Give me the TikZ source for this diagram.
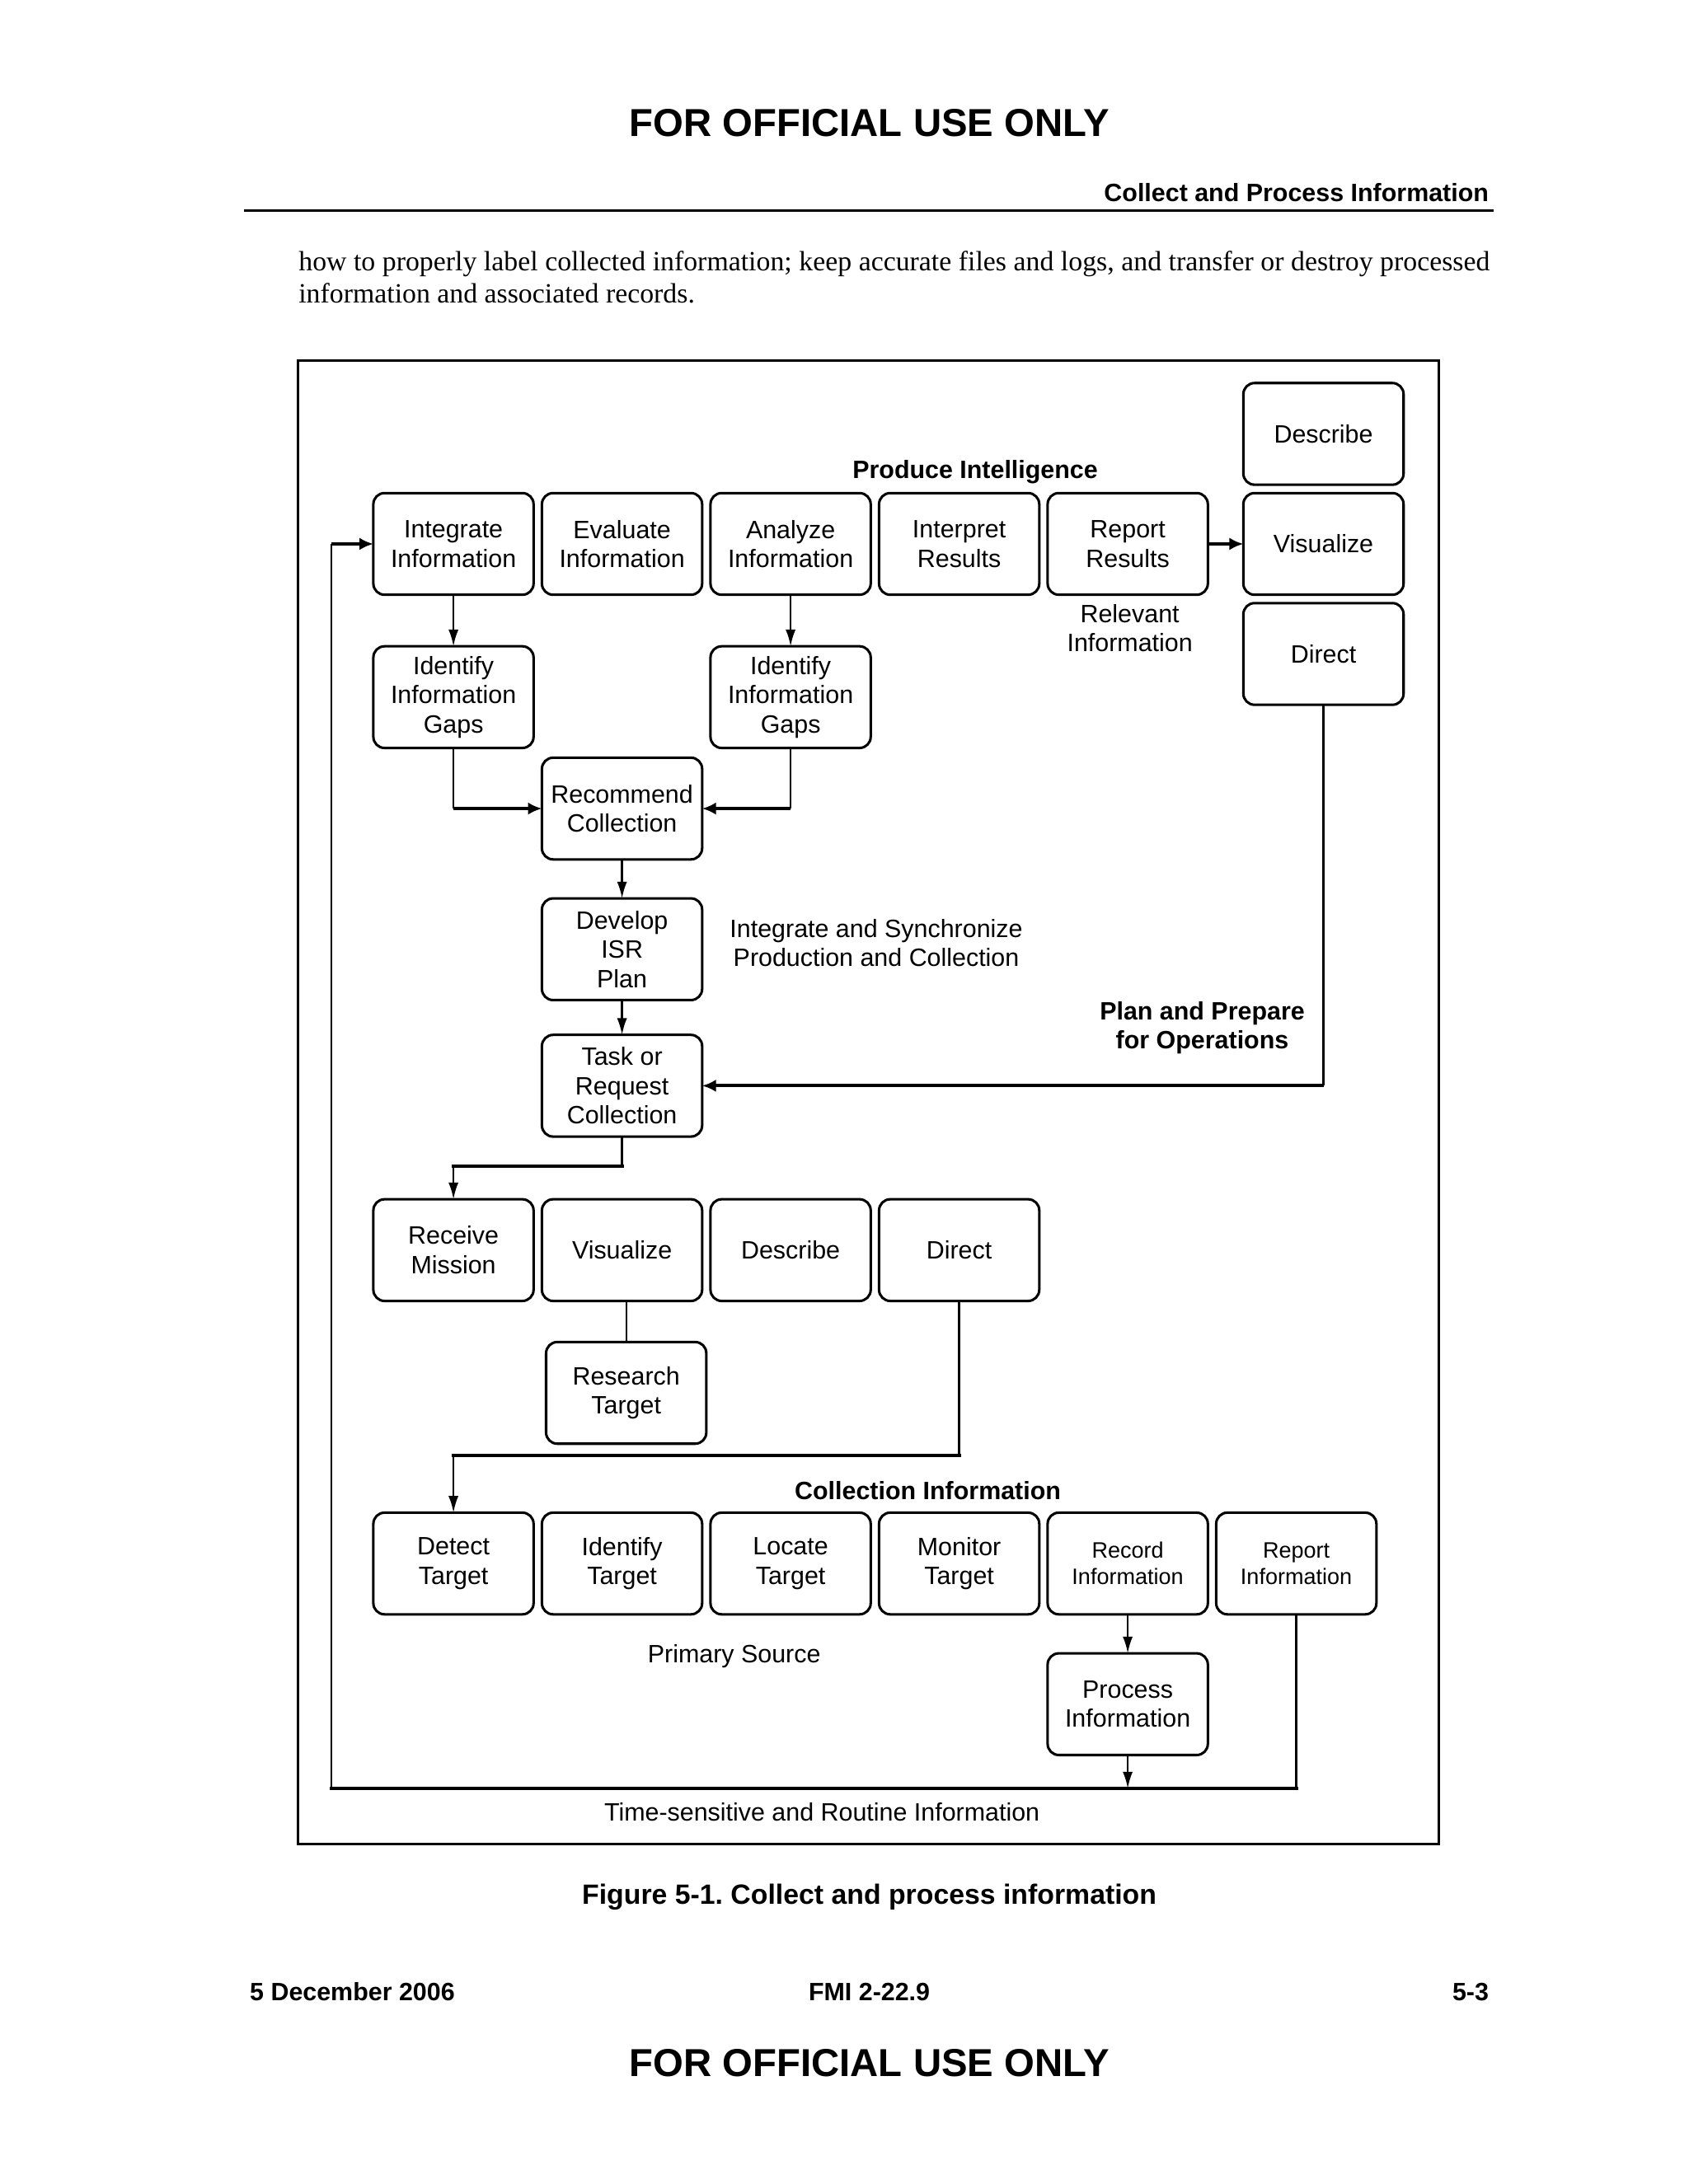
\documentclass[tikz,border=0pt]{standalone}
\usepackage{fontspec}
\setmainfont{Liberation Serif}
\setsansfont{Liberation Sans}
\usetikzlibrary{positioning,arrows.meta}

\begin{document}
\begin{tikzpicture}[x=0.5pt,y=-0.5pt,
box/.style={rectangle, rounded corners=4pt, draw=black, line width=0.9pt, minimum width=57.5pt, minimum height=36.5pt, inner sep=1pt, outer sep=0pt, align=center, font=\sffamily\fontsize{9}{10.5}\selectfont},
smallbox/.style={box, font=\sffamily\fontsize{8}{9.5}\selectfont},
lbl/.style={align=center, font=\sffamily\fontsize{9}{10.5}\selectfont},
head/.style={align=center, font=\sffamily\bfseries\fontsize{9}{10.5}\selectfont},
thinline/.style={line width=0.7pt},
thickline/.style={line width=1.2pt, line cap=rect},
link/.style={line width=0.7pt, -{Latex[length=6pt,width=3.6pt]}},
flow/.style={line width=1.2pt, -{Latex[length=5pt,width=4.5pt]}},
]
\useasboundingbox (0,0) rectangle (1212,1568);

% page
\node[font=\sffamily\bfseries\fontsize{14}{16}\selectfont] (fouotop) at (624,88) {FOR OFFICIAL USE ONLY};
\node[anchor=east, inner sep=0pt, font=\sffamily\bfseries\fontsize{9}{11}\selectfont] (runhead) at (1069,138) {Collect and Process Information};
\draw[line width=0.9pt] (175,151) -- (1072,151);
\node[anchor=north west, inner sep=0pt, align=left, font=\rmfamily\fontsize{10}{11.5}\selectfont] (bodytext) at (214,180)
  {\makebox[427.5pt][s]{how to properly label collected information; keep accurate files and logs, and transfer or destroy processed}\\
   information and associated records.};
\coordinate (frameNW) at (214,259);
\coordinate (frameSE) at (1033,1324);
\draw[line width=0.8pt] (frameNW) rectangle (frameSE);

% produce intelligence
\node[head] (prodlbl) at (700,339) {Produce Intelligence};
\node[box] (integ) at (325.5,390.5) {Integrate\\Information};
\node[box, right=3pt of integ] (evaluate) {Evaluate\\Information};
\node[box, right=3pt of evaluate] (analyze) {Analyze\\Information};
\node[box, right=3pt of analyze] (interpret) {Interpret\\Results};
\node[box, right=3pt of interpret] (report) {Report\\Results};
\node[box] (visualizeA) at (950,390.5) {Visualize};
\node[box, above=3pt of visualizeA] (describeA) {Describe};
\node[box, below=3pt of visualizeA] (directA) {Direct};
\node[lbl] (relevant) at (811,451) {Relevant\\Information};
\node[box, below=18.5pt of integ] (gapsA) {Identify\\Information\\Gaps};
\node[box, below=18.5pt of analyze] (gapsB) {Identify\\Information\\Gaps};
\node[box] (recommend) at (446.5,580.5) {Recommend\\Collection};
\node[box, below=14pt of recommend] (develop) {Develop\\ISR\\Plan};
\node[box, below=12.5pt of develop] (task) {Task or\\Request\\Collection};
\node[lbl] (synclbl) at (629,677) {Integrate and Synchronize\\Production and Collection};
\node[head] (planlbl) at (863,738) {Plan and Prepare\\for Operations};

% plan and prepare
\node[box] (receive) at (325.5,897.5) {Receive\\Mission};
\node[box, right=3pt of receive] (visualizeB) {Visualize};
\node[box, right=3pt of visualizeB] (describeB) {Describe};
\node[box, right=3pt of describeB] (directB) {Direct};
\node[box] (research) at (449.5,1000) {Research\\Target};

% collection
\node[head] (colllbl) at (666,1070) {Collection Information};
\node[box] (detect) at (325.5,1122.5) {Detect\\Target};
\node[box, right=3pt of detect] (identify) {Identify\\Target};
\node[box, right=3pt of identify] (locate) {Locate\\Target};
\node[box, right=3pt of locate] (monitor) {Monitor\\Target};
\node[smallbox, right=3pt of monitor] (record) {Record\\Information};
\node[smallbox, right=3pt of record] (reportinfo) {Report\\Information};
\node[box, below=14pt of record] (process) {Process\\Information};
\node[lbl] (primary) at (527,1189) {Primary Source};
\node[lbl] (timelbl) at (590,1301) {Time-sensitive and Routine Information};

% connectors
\draw[link] (integ) -- (gapsA);
\draw[link] (analyze) -- (gapsB);
\coordinate (jA) at (gapsA.south |- recommend.west);
\coordinate (jB) at (gapsB.south |- recommend.east);
\draw[thinline] (gapsA.south) -- (jA);
\draw[flow] (jA) -- (recommend.west);
\draw[thinline] (gapsB.south) -- (jB);
\draw[flow] (jB) -- (recommend.east);
\draw[flow] (report.east) -- (visualizeA.west);
\draw[link] (recommend) -- (develop);
\draw[link] (develop) -- (task);
\coordinate (jC) at (directA.south |- task.east);
\draw[thinline] (directA.south) -- (jC);
\draw[flow] (jC) -- (task.east);

\coordinate (rowD) at (0,837);
\coordinate (jD1) at (task.south |- rowD);
\coordinate (jD2) at (receive.north |- rowD);
\draw[thinline] (task.south) -- (jD1);
\draw[thickline] (jD1) -- (jD2);
\draw[link] (jD2) -- (receive.north);
\draw[thinline] (research.north) -- (research.north |- visualizeB.south);

\coordinate (rowE) at (0,1045);
\coordinate (jE1) at (directB.south |- rowE);
\coordinate (jE2) at (detect.north |- rowE);
\draw[thinline] (directB.south) -- (jE1);
\draw[thickline] (jE1) -- (jE2);
\draw[link] (jE2) -- (detect.north);

\draw[link] (record) -- (process);
\coordinate (rowF) at (0,1284);
\coordinate (colF) at (238,0);
\coordinate (jF1) at (reportinfo.south |- rowF);
\coordinate (jF2) at (colF |- rowF);
\coordinate (jF3) at (colF |- integ.west);
\draw[thinline] (reportinfo.south) -- (jF1);
\draw[thickline] (jF1) -- (jF2);
\draw[thinline] (jF2) -- (jF3);
\draw[flow] (jF3) -- (integ.west);
\draw[link] (process.south) -- (process.south |- rowF);

% footer
\node[font=\sffamily\bfseries\fontsize{10}{12}\selectfont] (caption) at (624,1362) {Figure 5-1.\ Collect and process information};
\node[anchor=west, inner sep=0pt, font=\sffamily\bfseries\fontsize{9}{11}\selectfont] (date) at (179,1430) {5 December 2006};
\node[inner sep=0pt, font=\sffamily\bfseries\fontsize{9}{11}\selectfont] (docnum) at (624,1430) {FMI 2-22.9};
\node[anchor=east, inner sep=0pt, font=\sffamily\bfseries\fontsize{9}{11}\selectfont] (pagenum) at (1069,1430) {5-3};
\node[font=\sffamily\bfseries\fontsize{14}{16}\selectfont] (fouobot) at (624,1481) {FOR OFFICIAL USE ONLY};
\end{tikzpicture}
\end{document}
